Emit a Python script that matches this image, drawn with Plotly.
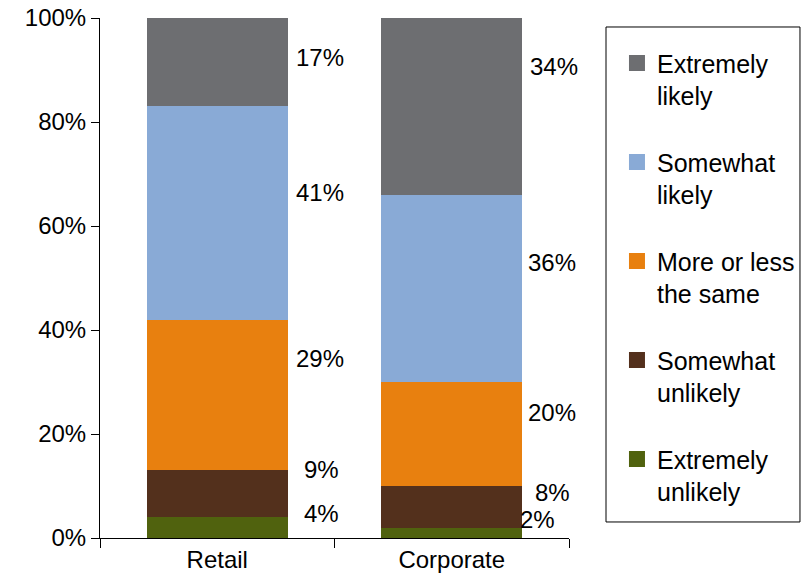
import plotly.graph_objects as go

# Survey responses by segment (percent of respondents)
categories = ["Retail", "Corporate"]
series_names = [
    "Extremely unlikely",
    "Somewhat unlikely",
    "More or less the same",
    "Somewhat likely",
    "Extremely likely",
]
legend_labels = [
    "Extremely<br>unlikely",
    "Somewhat<br>unlikely",
    "More or less<br>the same",
    "Somewhat<br>likely",
    "Extremely<br>likely",
]
retail = [4, 9, 29, 41, 17]
corporate = [2, 8, 20, 36, 34]
colors = ["#50620E", "#53301C", "#E8800F", "#89AAD6", "#6D6E71"]
y_ticks = [0, 20, 40, 60, 80, 100]
y_tick_labels = ["0%", "20%", "40%", "60%", "80%", "100%"]

# vertical placement of the value labels beside each bar (data units)
retail_label_y = [4.8, 13.1, 34.6, 66.5, 92.5]
corporate_label_y = [3.5, 8.8, 24.2, 52.9, 90.6]
retail_label_shift = [104, 104, 103, 103, 103]
corporate_label_shift = [86, 101, 100, 100, 102]

FONT = "Liberation Sans, Arial, sans-serif"

fig = go.Figure()
n = len(series_names)
for i, name in enumerate(series_names):
    fig.add_trace(go.Bar(
        x=categories,
        y=[retail[i], corporate[i]],
        name=legend_labels[i],
        showlegend=False,
        marker=dict(color=colors[i], line=dict(width=0)),
        hoverinfo="skip",
    ))
# legend entries with larger square swatches
for i, name in enumerate(series_names):
    fig.add_trace(go.Scatter(
        x=[None], y=[None], mode="markers",
        name=legend_labels[i],
        legendgroup=name,
        legendrank=n - i,
        marker=dict(symbol="square", size=16, color=colors[i], line=dict(width=0)),
        hoverinfo="skip",
    ))

annotations = []
for i in range(n):
    annotations.append(dict(
        x="Retail", y=retail_label_y[i], xref="x", yref="y",
        text=f"{retail[i]}%", showarrow=False, xshift=retail_label_shift[i],
        font=dict(size=24, color="black", family=FONT),
    ))
    annotations.append(dict(
        x="Corporate", y=corporate_label_y[i], xref="x", yref="y",
        text=f"{corporate[i]}%", showarrow=False, xshift=corporate_label_shift[i],
        font=dict(size=24, color="black", family=FONT),
    ))

# frame around the legend
legend_frame = dict(
    type="rect", xref="paper", yref="paper",
    x0=1.0789, x1=1.4925, y0=0.0308, y1=0.9827,
    line=dict(color="black", width=1), fillcolor="rgba(0,0,0,0)",
    layer="above",
)

fig.update_layout(
    width=802,
    height=581,
    barmode="stack",
    bargap=0.4,
    plot_bgcolor="white",
    paper_bgcolor="white",
    margin=dict(l=100, r=233, t=18, b=43, autoexpand=False),
    font=dict(family=FONT, size=24, color="black"),
    annotations=annotations,
    shapes=[legend_frame],
    showlegend=True,
    legend=dict(
        x=1.1023, y=0.957, xanchor="left", yanchor="top",
        traceorder="grouped",
        tracegroupgap=31,
        valign="top",
        borderwidth=0,
        bgcolor="rgba(0,0,0,0)",
        font=dict(size=25, family=FONT, color="black"),
        itemwidth=30,
    ),
)
fig.update_xaxes(
    range=[-0.5, 1.5], autorange=False,
    showline=True, linecolor="black", linewidth=1,
    ticks="outside", tickson="boundaries", ticklen=9, tickcolor="black",
    tickfont=dict(size=24, family=FONT),
    showgrid=False, automargin=False,
)
fig.update_yaxes(
    range=[0, 100], autorange=False, tickmode="array", tickvals=y_ticks, ticktext=y_tick_labels,
    showline=True, linecolor="black", linewidth=1,
    ticks="outside", ticklen=8, tickcolor="black",
    tickfont=dict(size=24, family=FONT),
    showgrid=False, zeroline=False, automargin=False,
)

fig.write_html("out.html")
